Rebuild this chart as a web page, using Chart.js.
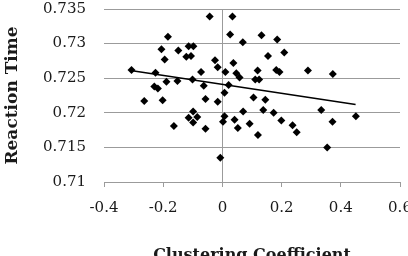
<!DOCTYPE html>
<html>
<head>
<meta charset="utf-8">
<script src="https://cdn.jsdelivr.net/npm/chart.js@4/dist/chart.umd.min.js"></script>
<style>
    html, body { margin: 0; padding: 0; background: #fff; }
    #wrap { width: 408px; height: 256px; }
</style>
</head>
<body>
<div id="wrap"><canvas id="scatterChart" width="408" height="256"></canvas></div>
<script>
// Clustering coefficient (x) and reaction time (y)
const clustering = [
    -0.307, -0.264, -0.230, -0.218, -0.226, -0.206, -0.202, -0.195, -0.189, -0.184,
    -0.164, -0.152, -0.149, -0.122, -0.106, -0.114, -0.098, -0.101, -0.099, -0.114,
    -0.085, -0.099, -0.072, -0.063, -0.057, -0.057, -0.043, -0.025, -0.016, -0.016,
    -0.007, 0.002, 0.007, 0.007, 0.010, 0.021, 0.026, 0.034, 0.037, 0.041,
    0.047, 0.058, 0.052, 0.069, 0.070, 0.092, 0.105, 0.111, 0.124, 0.119,
    0.120, 0.132, 0.138, 0.145, 0.154, 0.173, 0.185, 0.182, 0.193, 0.199,
    0.209, 0.237, 0.251, 0.289, 0.334, 0.354, 0.373, 0.372, 0.451
];
const reactionTime = [
    0.7262, 0.7217, 0.7238, 0.7235, 0.7258, 0.7292, 0.7218, 0.7277, 0.7245, 0.7310,
    0.7181, 0.7246, 0.7290, 0.7281, 0.7282, 0.7296, 0.7296, 0.7248, 0.7202, 0.7193,
    0.7194, 0.7186, 0.7259, 0.7239, 0.7220, 0.7177, 0.7339, 0.7276, 0.7266, 0.7216,
    0.7135, 0.7187, 0.7195, 0.7229, 0.7259, 0.7240, 0.7313, 0.7339, 0.7272, 0.7190,
    0.7257, 0.7251, 0.7178, 0.7302, 0.7202, 0.7184, 0.7222, 0.7248, 0.7248, 0.7261,
    0.7168, 0.7312, 0.7204, 0.7219, 0.7282, 0.7200, 0.7306, 0.7262, 0.7259, 0.7189,
    0.7287, 0.7182, 0.7172, 0.7261, 0.7204, 0.7150, 0.7256, 0.7187, 0.7195
];

// Linear trendline end points
const trendX = [-0.31, 0.45];
const trendY = [0.7261, 0.7212];

const xTickLabels = ["-0.4", "-0.2", "0", "0.2", "0.4", "0.6"];
const yTickLabels = ["0.71", "0.715", "0.72", "0.725", "0.73", "0.735"];

const gridGray = "#9b9b9b";
const textColor = "#1a1a1a";
const serif = "'DejaVu Serif', 'Liberation Serif', serif";

const points = clustering.map((x, i) => ({ x: x, y: reactionTime[i] }));
const trend = trendX.map((x, i) => ({ x: x, y: trendY[i] }));

const ctx = document.getElementById("scatterChart").getContext("2d");

new Chart(ctx, {
    type: "scatter",
    data: {
        datasets: [
            {
                label: "Reaction Time",
                data: points,
                pointStyle: "rectRot",
                pointRadius: 4,
                backgroundColor: "#000",
                borderColor: "#000",
                borderWidth: 0
            },
            {
                type: "line",
                label: "Trend",
                data: trend,
                showLine: true,
                pointRadius: 0,
                borderColor: "#000",
                borderWidth: 1.5,
                fill: false
            }
        ]
    },
    options: {
        responsive: false,
        animation: false,
        layout: {
            padding: { left: 0, right: 8, top: 9, bottom: 0 }
        },
        plugins: {
            legend: { display: false },
            tooltip: { enabled: false }
        },
        scales: {
            x: {
                type: "linear",
                min: -0.4,
                max: 0.6,
                afterFit: scale => {
                    // the last label is clipped in the original, so no extra room for it
                    scale.height = 74;
                    scale.paddingLeft = 0;
                    scale.paddingRight = 0;
                },
                ticks: {
                    stepSize: 0.2,
                    padding: 12,
                    color: textColor,
                    font: { family: serif, size: 15 },
                    callback: (value, index) => xTickLabels[index]
                },
                grid: {
                    drawTicks: true,
                    tickLength: 5,
                    tickColor: gridGray,
                    color: c => (c.tick && Math.abs(c.tick.value) < 1e-9) ? gridGray : "rgba(0,0,0,0)"
                },
                border: { display: true, color: gridGray },
                title: {
                    display: true,
                    text: "Clustering Coefficient",
                    color: textColor,
                    font: { family: serif, size: 16, weight: "bold" },
                    padding: { top: 0, bottom: -9 }
                }
            },
            y: {
                min: 0.71,
                max: 0.735,
                afterFit: scale => {
                    scale.width = 104;
                    scale.paddingTop = 0;
                    scale.paddingBottom = 0;
                },
                ticks: {
                    stepSize: 0.005,
                    padding: 18,
                    color: textColor,
                    font: { family: serif, size: 15 },
                    callback: (value, index) => yTickLabels[index]
                },
                grid: {
                    drawTicks: false,
                    color: gridGray
                },
                border: { display: false },
                title: {
                    display: true,
                    text: "Reaction Time",
                    color: textColor,
                    font: { family: serif, size: 17, weight: "bold" },
                    padding: { top: 2, bottom: 0 }
                }
            }
        }
    }
});
</script>
</body>
</html>
